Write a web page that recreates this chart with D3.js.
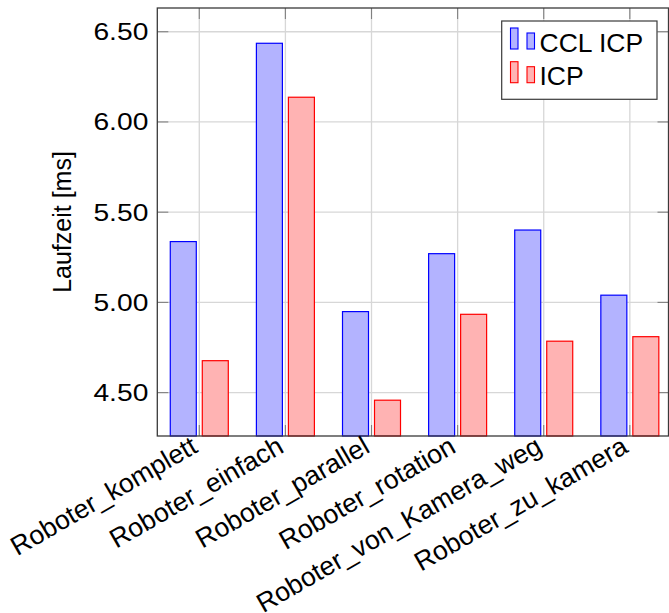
<!DOCTYPE html>
<html>
<head>
<meta charset="utf-8">
<script src="https://cdn.jsdelivr.net/npm/d3@7"></script>
<style>
  html, body { margin: 0; padding: 0; background: #fff; }
  svg { display: block; font-family: "Liberation Sans", Arial, Helvetica, sans-serif; }
</style>
</head>
<body>
<svg id="chart" width="669" height="613"></svg>
<script>
const categories = ["Roboter_komplett", "Roboter_einfach", "Roboter_parallel", "Roboter_rotation", "Roboter_von_Kamera_weg", "Roboter_zu_kamera"];
const seriesNames = ["CCL ICP", "ICP"];
const cclIcp = [5.337, 6.436, 4.949, 5.270, 5.401, 5.040];
const icp = [4.677, 6.137, 4.458, 4.934, 4.785, 4.810];
const yTicks = [4.5, 5.0, 5.5, 6.0, 6.5];
const yLabel = "Laufzeit [ms]";

const svg = d3.select("#chart");
const plot = { left: 157.3, right: 668.5, top: 8, bottom: 436 };

const x = d3.scaleLinear().domain([-0.4876, 5.449]).range([plot.left, plot.right]);
const y = d3.scaleLinear().domain([4.2596, 6.6315]).range([plot.bottom, plot.top]);

const gridColor = "#d7d7d7";
const tickColor = "#808080";
const axisColor = "#3a3a3a";

// grid
const grid = svg.append("g");
grid.selectAll("line.h").data(yTicks).enter().append("line")
  .attr("x1", plot.left).attr("x2", plot.right)
  .attr("y1", d => y(d)).attr("y2", d => y(d))
  .attr("stroke", gridColor).attr("stroke-width", 1.3);
grid.selectAll("line.v").data(categories).enter().append("line")
  .attr("x1", (d, i) => x(i)).attr("x2", (d, i) => x(i))
  .attr("y1", plot.top).attr("y2", plot.bottom)
  .attr("stroke", gridColor).attr("stroke-width", 1.3);

// ticks (inside)
const ticks = svg.append("g").attr("stroke", tickColor).attr("stroke-width", 1.1);
yTicks.forEach(t => {
  ticks.append("line").attr("x1", plot.left).attr("x2", plot.left + 11).attr("y1", y(t)).attr("y2", y(t));
  ticks.append("line").attr("x1", plot.right - 11).attr("x2", plot.right).attr("y1", y(t)).attr("y2", y(t));
});
categories.forEach((c, i) => {
  ticks.append("line").attr("x1", x(i)).attr("x2", x(i)).attr("y1", plot.top).attr("y2", plot.top + 11);
  ticks.append("line").attr("x1", x(i)).attr("x2", x(i)).attr("y1", plot.bottom - 11).attr("y2", plot.bottom);
});

// bars
const barW = 26;
const off = 16;
const series = [
  { name: seriesNames[0], values: cclIcp, fill: "#b3b3ff", stroke: "#0000ff", dx: -off },
  { name: seriesNames[1], values: icp, fill: "#ffb3b3", stroke: "#ff0000", dx: off }
];
series.forEach(s => {
  svg.append("g").selectAll("rect").data(s.values).enter().append("rect")
    .attr("x", (d, i) => x(i) + s.dx - barW / 2)
    .attr("width", barW)
    .attr("y", d => y(d))
    .attr("height", d => plot.bottom - y(d))
    .attr("fill", s.fill)
    .attr("stroke", s.stroke)
    .attr("stroke-width", 1.2);
});

// axis box
svg.append("rect")
  .attr("x", plot.left).attr("y", plot.top)
  .attr("width", plot.right - plot.left).attr("height", plot.bottom - plot.top)
  .attr("fill", "none").attr("stroke", axisColor).attr("stroke-width", 1.3);

// y tick labels (slightly wide glyphs as in the reference)
svg.append("g").selectAll("text").data(yTicks).enter().append("text")
  .attr("transform", d => `translate(${plot.left - 9},${y(d)}) scale(1.2,1)`)
  .attr("dy", "0.36em")
  .attr("text-anchor", "end")
  .attr("font-size", 23.5)
  .attr("fill", "#000")
  .text(d => d3.format(".2f")(d));

// x labels
svg.append("g").selectAll("text").data(categories).enter().append("text")
  .attr("transform", (d, i) => `translate(${x(i) - 5},${plot.bottom + 7}) rotate(-30)`)
  .attr("text-anchor", "end")
  .attr("dy", "0.36em")
  .attr("font-size", 26.6)
  .attr("fill", "#000")
  .text(d => d);

// y axis label
svg.append("text")
  .attr("transform", `translate(71,${(plot.top + plot.bottom) / 2}) rotate(-90)`)
  .attr("text-anchor", "middle")
  .attr("font-size", 25)
  .attr("fill", "#000")
  .text(yLabel);

// legend
const lg = svg.append("g");
lg.append("rect").attr("x", 501.7).attr("y", 21).attr("width", 155.3).attr("height", 78.3)
  .attr("fill", "#fff").attr("stroke", axisColor).attr("stroke-width", 1.2);
series.forEach((s, k) => {
  const by = 49 + k * 33.7;
  lg.append("rect").attr("x", 510.5).attr("y", by - 21).attr("width", 7.5).attr("height", 21)
    .attr("fill", s.fill).attr("stroke", s.stroke).attr("stroke-width", 1.1);
  lg.append("rect").attr("x", 527).attr("y", by - 16).attr("width", 7.5).attr("height", 16)
    .attr("fill", s.fill).attr("stroke", s.stroke).attr("stroke-width", 1.1);
  lg.append("text").attr("x", 539.5).attr("y", by + 2.5)
    .attr("font-size", 26.5).attr("fill", "#000").text(s.name);
});
</script>
</body>
</html>
